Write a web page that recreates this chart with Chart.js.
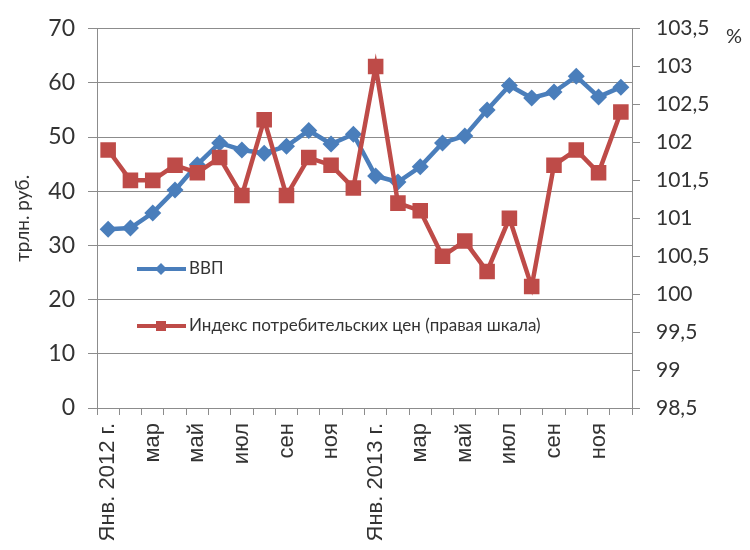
<!DOCTYPE html>
<html>
<head>
<meta charset="utf-8">
<script src="https://cdn.jsdelivr.net/npm/chart.js@4"></script>
<style>
    body { margin: 0; background: #fff; }
    #wrap { width: 750px; height: 550px; }
</style>
</head>
<body>
<div id="wrap"><canvas id="gdpChart"></canvas></div>
<script>
// ВВП и индекс потребительских цен, 2012-2013

const monthLabels = ['Янв. 2012 г.', 'фев', 'мар', 'апр', 'май', 'июн', 'июл', 'авг', 'сен', 'окт', 'ноя', 'дек',
                     'Янв. 2013 г.', 'фев', 'мар', 'апр', 'май', 'июн', 'июл', 'авг', 'сен', 'окт', 'ноя', 'дек'];
const gdpValues = [33.0, 33.2, 36.0, 40.2, 44.9, 48.9, 47.6, 47.0, 48.3, 51.2, 48.7, 50.5,
                   42.8, 41.7, 44.5, 48.9, 50.2, 55.0, 59.5, 57.2, 58.3, 61.2, 57.4, 59.2];
const cpiValues = [101.9, 101.5, 101.5, 101.7, 101.6, 101.8, 101.3, 102.3, 101.3, 101.8, 101.7, 101.4,
                   103.0, 101.2, 101.1, 100.5, 100.7, 100.3, 101.0, 100.1, 101.7, 101.9, 101.6, 102.4];
const legendNames = ['ВВП', 'Индекс потребительских цен (правая шкала)'];

const BLUE = '#4a7ebb';
const RED = '#be4b48';
const GRID = '#8c8c8c';
const TEXT = '#333333';

// legend sits inside the plot, plus the "%" mark over the right axis
const insideLegend = {
    id: 'insideLegend',
    afterDraw(chart) {
        const ctx = chart.ctx;
        const rows = [
            { y: 269, color: BLUE, marker: 'diamond', text: legendNames[0] },
            { y: 326, color: RED, marker: 'square', text: legendNames[1] }
        ];
        ctx.save();
        rows.forEach(function(r) {
            ctx.strokeStyle = r.color;
            ctx.lineWidth = 4;
            ctx.beginPath();
            ctx.moveTo(137, r.y);
            ctx.lineTo(186, r.y);
            ctx.stroke();
            ctx.fillStyle = r.color;
            ctx.beginPath();
            if (r.marker === 'diamond') {
                ctx.moveTo(161, r.y - 6);
                ctx.lineTo(167, r.y);
                ctx.lineTo(161, r.y + 6);
                ctx.lineTo(155, r.y);
                ctx.closePath();
            } else {
                ctx.rect(156, r.y - 5, 10, 10);
            }
            ctx.fill();
            ctx.fillStyle = TEXT;
            ctx.font = '17px Lato';
            ctx.textBaseline = 'middle';
            ctx.textAlign = 'left';
            ctx.fillText(r.text, 189, r.y);
        });
        ctx.font = '20px Lato';
        ctx.textAlign = 'center';
        ctx.fillText('%', 734, 37);
        ctx.restore();
    }
};

const ctx = document.getElementById('gdpChart').getContext('2d');

new Chart(ctx, {
    type: 'line',
    data: {
        labels: monthLabels,
        datasets: [
            {
                label: legendNames[0],
                data: gdpValues,
                yAxisID: 'y',
                borderColor: BLUE,
                backgroundColor: BLUE,
                borderWidth: 4.5,
                pointStyle: 'rectRot',
                pointRadius: 8.5,
                pointBorderWidth: 0,
                tension: 0,
                order: 1
            },
            {
                label: legendNames[1],
                data: cpiValues,
                yAxisID: 'y1',
                borderColor: RED,
                backgroundColor: RED,
                borderWidth: 4.5,
                pointStyle: 'rect',
                pointRadius: 11,
                pointBorderWidth: 0,
                tension: 0,
                order: 0
            }
        ]
    },
    options: {
        responsive: true,
        maintainAspectRatio: false,
        animation: false,
        layout: { padding: { top: 24, left: 0, right: 0, bottom: 0 } },
        plugins: {
            legend: { display: false },
            tooltip: { enabled: false }
        },
        scales: {
            x: {
                offset: true,
                grid: {
                    offset: true,
                    drawOnChartArea: false,
                    color: GRID,
                    tickLength: 7
                },
                border: { color: GRID },
                ticks: {
                    autoSkip: false,
                    minRotation: 90,
                    maxRotation: 90,
                    padding: 8,
                    color: TEXT,
                    font: { family: 'Liberation Sans', size: 22 },
                    callback: function(value, index) {
                        return index % 2 === 0 ? monthLabels[index] : '';
                    }
                },
                afterFit: function(scale) { scale.height = 142; }
            },
            y: {
                position: 'left',
                min: 0,
                max: 70,
                grid: { color: GRID, tickLength: 9 },
                border: { color: GRID },
                ticks: {
                    stepSize: 10,
                    padding: 13,
                    color: TEXT,
                    font: { family: 'Lato', size: 23 }
                },
                title: {
                    display: true,
                    text: 'трлн. руб.',
                    color: TEXT,
                    font: { family: 'Lato', size: 19 },
                    padding: { top: 11, bottom: 0 }
                },
                afterFit: function(scale) { scale.width = 97; }
            },
            y1: {
                position: 'right',
                min: 98.5,
                max: 103.5,
                grid: { drawOnChartArea: false, color: GRID, tickLength: 8 },
                border: { color: GRID },
                ticks: {
                    stepSize: 0.5,
                    padding: 16,
                    color: TEXT,
                    font: { family: 'Lato', size: 21 },
                    callback: function(value) {
                        return String(Math.round(value * 10) / 10).replace('.', ',');
                    }
                },
                afterFit: function(scale) { scale.width = 118; }
            }
        }
    },
    plugins: [insideLegend]
});
</script>
</body>
</html>
